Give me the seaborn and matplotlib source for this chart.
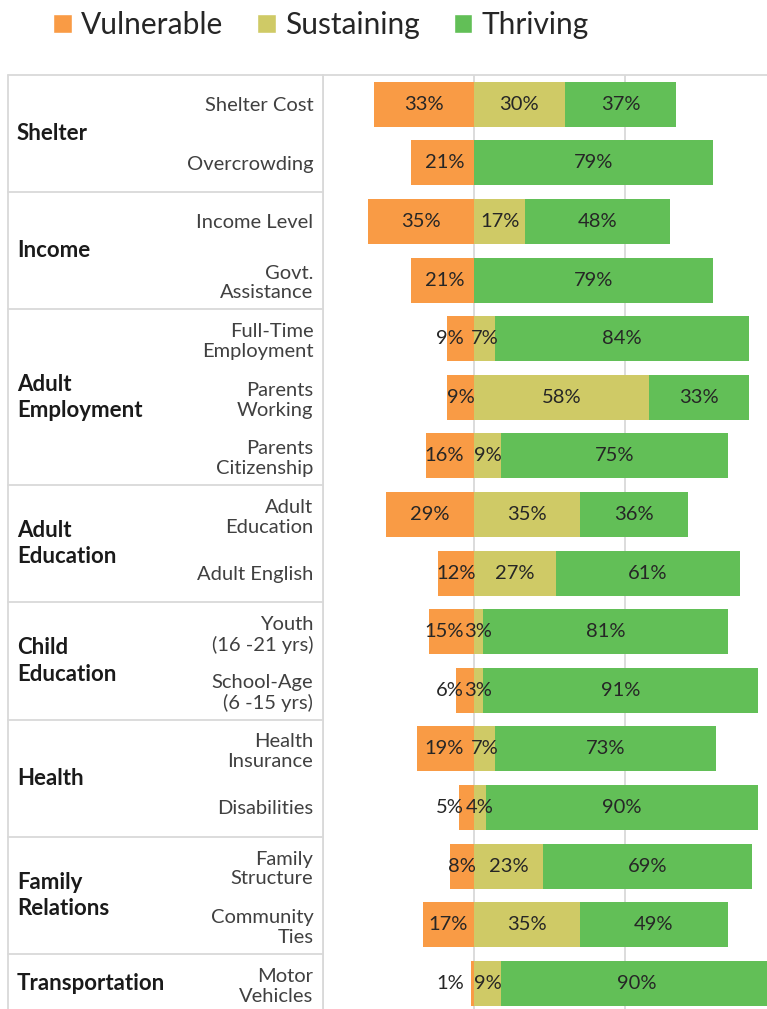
import numpy as np
import pandas as pd
import matplotlib
matplotlib.use("Agg")
import matplotlib.pyplot as plt
from matplotlib.patches import Patch
import seaborn as sns

# --- data: share of households per indicator (%) ---
indicators = ["Shelter Cost", "Overcrowding", "Income Level", "Govt.\nAssistance",
              "Full-Time\nEmployment", "Parents\nWorking", "Parents\nCitizenship",
              "Adult\nEducation", "Adult English", "Youth\n(16 -21 yrs)",
              "School-Age\n(6 -15 yrs)", "Health\nInsurance", "Disabilities",
              "Family\nStructure", "Community\nTies", "Motor\nVehicles"]
vulnerable = [33, 21, 35, 21, 9, 9, 16, 29, 12, 15, 6, 19, 5, 8, 17, 1]
sustaining = [30, 0, 17, 0, 7, 58, 9, 35, 27, 3, 3, 7, 4, 23, 35, 9]
thriving = [37, 79, 48, 79, 84, 33, 75, 36, 61, 81, 91, 73, 90, 69, 49, 90]

domains = ["Shelter", "Income", "Adult\nEmployment", "Adult\nEducation",
           "Child\nEducation", "Health", "Family\nRelations", "Transportation"]
domain_sizes = [2, 2, 3, 2, 2, 2, 2, 1]
legend_labels = ["Vulnerable", "Sustaining", "Thriving"]

ORANGE = "#F99B45"
OLIVE = "#CFCA66"
GREEN = "#62BF57"
GRID = "#d9d9d9"
TXT = "#262626"

sns.set_theme(style="white")
plt.rcParams["font.family"] = ["Lato", "DejaVu Sans"]

df = pd.DataFrame({"indicator": indicators,
                   "vul_neg": -np.array(vulnerable),
                   "sust": sustaining,
                   "pos_total": np.array(sustaining) + np.array(thriving)})

W, H = 767, 1009
fig = plt.figure(figsize=(W / 100, H / 100), dpi=100)
ax_left, ax_top, row_px = 323, 75, 58.6
n = len(indicators)
ax_h = row_px * n
ax = fig.add_axes([ax_left / W, 1 - (ax_top + ax_h) / H, (W - ax_left) / W, ax_h / H])

# stacked diverging bars: green = sust + thriving, olive on top, orange negative
for col, c in [("pos_total", GREEN), ("sust", OLIVE), ("vul_neg", ORANGE)]:
    sns.barplot(data=df, x=col, y="indicator", orient="h", color=c, saturation=1,
                width=0.77, errorbar=None, linewidth=0, ax=ax)

ax.set_xlim(-50, 97)
ax.set_ylim(n - 0.5, -0.5)
ax.set_xticks([-50, 0, 50])
ax.grid(axis="x", color=GRID, lw=1.3)
ax.set_axisbelow(True)
ax.tick_params(axis="x", length=0, labelbottom=False)
ax.tick_params(axis="y", length=0, pad=7, labelsize=14.5, labelcolor="#404040")
ax.set_xlabel("")
ax.set_ylabel("")
for s in ["top", "right", "bottom"]:
    ax.spines[s].set_visible(False)
ax.spines["left"].set_color(GRID)
ax.spines["left"].set_linewidth(1.3)
for lab in ax.get_yticklabels():
    lab.set_linespacing(1.2)

# segment labels
for i in range(n):
    v, s, t = vulnerable[i], sustaining[i], thriving[i]
    # when the sustaining label sits right at zero, the vulnerable label is pushed left
    if s < 10:
        ax.text(-3.3, i, f"{v}%", ha="right", va="center", fontsize=14.5, color=TXT)
    else:
        ax.text(-v / 2, i, f"{v}%", ha="center", va="center", fontsize=14.5, color=TXT)
    if s > 0:
        ax.text(s / 2, i, f"{s}%", ha="center", va="center", fontsize=14.5, color=TXT)
    ax.text(s + t / 2, i, f"{t}%", ha="center", va="center", fontsize=14.5, color=TXT)

# left table: domain names and separators
tr = ax.get_yaxis_transform()
x_tab = (8 - ax_left) / (W - ax_left)
x_dom = (17 - ax_left) / (W - ax_left)
start = 0
for name, size in zip(domains, domain_sizes):
    yc = start + (size - 1) / 2
    ax.text(x_dom, yc, name, transform=tr, ha="left", va="center", fontsize=16,
            fontweight="bold", color="#1a1a1a", linespacing=1.3)
    start += size
    if start < n:
        ax.plot([x_tab, 0], [start - 0.5, start - 0.5], transform=tr, color=GRID,
                lw=1.3, clip_on=False)
ax.plot([x_tab, x_tab], [-0.5, n - 0.5], transform=tr, color=GRID, lw=1.3, clip_on=False)
ax.plot([x_tab, 1], [1, 1], transform=ax.transAxes, color=GRID, lw=1.3, clip_on=False)

handles = [Patch(facecolor=c, label=l) for c, l in zip([ORANGE, OLIVE, GREEN], legend_labels)]
leg = fig.legend(handles=handles, loc="center left", bbox_to_anchor=(53 / W, 1 - 25 / H),
                 ncol=3, frameon=False, fontsize=21.5, handlelength=0.62, handleheight=0.62,
                 handletextpad=0.3, columnspacing=1.15, borderpad=0, borderaxespad=0)
for t in leg.get_texts():
    t.set_color(TXT)

fig.savefig("out.png", dpi=100)
